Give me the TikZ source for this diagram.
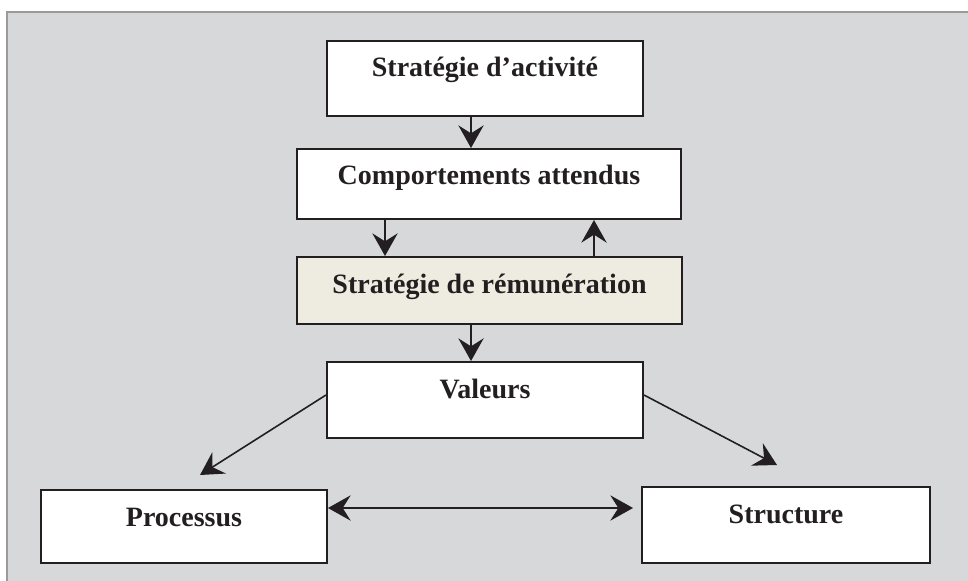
\documentclass[tikz,border=0pt]{standalone}
\usepackage{fontspec}
\setmainfont{Liberation Serif}
\usetikzlibrary{arrows.meta}
\definecolor{panelgray}{RGB}{215,216,218}
\definecolor{panelline}{RGB}{154,154,154}
\definecolor{remcream}{RGB}{238,235,224}
\definecolor{inkblack}{RGB}{35,31,32}
\tikzset{
  box/.style={draw=inkblack, line width=1.5pt, fill=white, anchor=north,
    inner sep=0pt, text height=27pt, align=center, text=inkblack,
    font=\fontsize{21}{24}\selectfont\bfseries},
  link/.style={draw=inkblack, line width=1.2pt,
    -{Stealth[length=17pt,width=19pt,inset=6pt]}},
  twolink/.style={draw=inkblack, line width=1.2pt,
    {Stealth[length=17pt,width=19pt,inset=6pt]}-{Stealth[length=17pt,width=19pt,inset=6pt]}},
}
\begin{document}
\begin{tikzpicture}[x=0.75pt, y=-0.75pt]
        \useasboundingbox (0, 0) rectangle (968, 581);
        \filldraw[fill=panelgray, draw=panelline, line width=1.5pt] (7, 12) rectangle (975, 590);
        \node[box, minimum width=316*0.75pt, text depth=29pt] (act_box) at (485, 40) {Stratégie d’activité};
        \node[box, minimum width=384*0.75pt, text depth=25.5pt] (comp_box) at (489, 148) {Comportements attendus};
        \node[box, minimum width=385*0.75pt, text depth=23.25pt, fill=remcream] (rem_box) at (489.5, 256) {Stratégie de rémunération};
        \node[box, minimum width=316*0.75pt, text depth=30pt] (val_box) at (485, 361) {Valeurs};
        \node[box, minimum width=286*0.75pt, text depth=27.75pt] (proc_box) at (184, 489) {Processus};
        \node[box, minimum width=288*0.75pt, text depth=30pt] (str_box) at (786, 486) {Structure};
        \coordinate (A_pnt) at (471, 0);
        \coordinate (B_pnt) at (385, 0);
        \coordinate (C_pnt) at (594, 0);
        \coordinate (P_pnt) at (200, 475);
        \coordinate (S_pnt) at (777, 465);
        \coordinate (D_pnt) at (633, 508);
        \draw[link] (act_box.south -| A_pnt) -- (comp_box.north -| A_pnt);
        \draw[link] (comp_box.south -| B_pnt) -- (rem_box.north -| B_pnt);
        \draw[link] (rem_box.north -| C_pnt) -- (comp_box.south -| C_pnt);
        \draw[link] (rem_box.south -| A_pnt) -- (val_box.north -| A_pnt);
        \draw[link] ([yshift=3.75pt]val_box.west) -- (P_pnt);
        \draw[link] ([yshift=3.75pt]val_box.east) -- (S_pnt);
        \draw[twolink] (proc_box.east |- D_pnt) -- (D_pnt);
    \end{tikzpicture}
\end{document}
